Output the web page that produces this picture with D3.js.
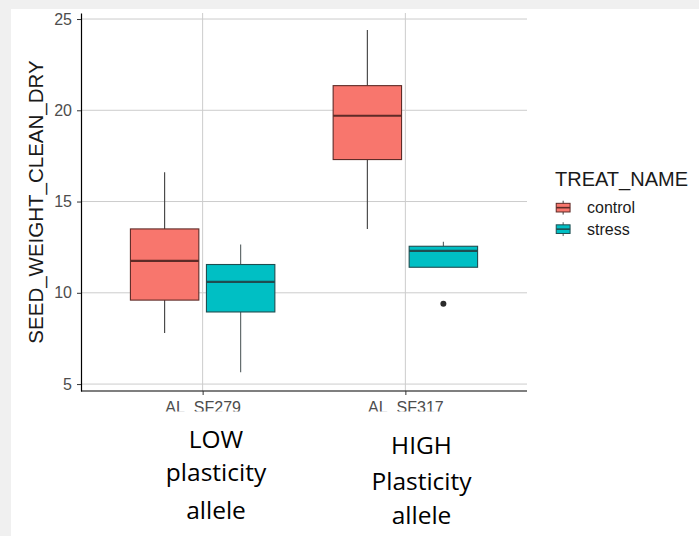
<!DOCTYPE html>
<html>
<head>
<meta charset="utf-8">
<script src="https://cdn.jsdelivr.net/npm/d3@7"></script>
<style>
  html, body { margin: 0; padding: 0; background: #f0f0f0; }
  svg { display: block; }
</style>
</head>
<body>
<svg id="chart" width="699" height="536"></svg>
<script>
// Seed weight by allele and treatment (box-plot summaries)
const alleles = ["AL_SF279", "AL_SF317"];
const treatments = ["control", "stress"];
const treatColors = ["#F8766D", "#00BFC4"];
const treatStrokes = ["#5e2b27", "#1f4d50"];
const whiskerColors = ["#3d3d3d", "#555f60"];

// [lower whisker, Q1, median, Q3, upper whisker] per allele
const controlStats = [
  [7.8, 9.6, 11.75, 13.5, 16.6],
  [13.5, 17.3, 19.7, 21.35, 24.4]
];
const stressStats = [
  [5.65, 8.95, 10.6, 11.55, 12.65],
  [11.4, 11.4, 12.3, 12.55, 12.8]
];
const outliers = [
  { allele: "AL_SF317", treat: "stress", value: 9.4 }
];
const yTicks = [5, 10, 15, 20, 25];
const groupNotes = [
  ["LOW", "plasticity", "allele"],
  ["HIGH", "Plasticity", "allele"]
];

const svg = d3.select("#chart");
const W = 699, H = 536;

// page background and white slide area
svg.append("rect").attr("width", W).attr("height", H).attr("fill", "#f0f0f0");
svg.append("rect").attr("x", 11).attr("y", 9).attr("width", W - 11).attr("height", H - 9).attr("fill", "#ffffff");

const panel = { left: 81, right: 527, top: 13, bottom: 391 };

const x = d3.scalePoint().domain(alleles).range([panel.left, panel.right]).padding(0.6);
const step = x.step();
const dodge = d3.scaleBand().domain(treatments).range([-0.375 * step, 0.375 * step]);
const boxW = dodge.bandwidth() * 0.9;

const y = d3.scaleLinear().domain([4.62, 25.33]).range([panel.bottom, panel.top]);

// grid
const grid = svg.append("g").attr("stroke", "#cccccc").attr("stroke-width", 1);
grid.selectAll("line.h").data(yTicks).join("line")
  .attr("x1", panel.left).attr("x2", panel.right)
  .attr("y1", d => y(d)).attr("y2", d => y(d));
grid.selectAll("line.v").data(alleles).join("line")
  .attr("x1", d => x(d)).attr("x2", d => x(d))
  .attr("y1", panel.top).attr("y2", panel.bottom);

// boxes
const series = [controlStats, stressStats];
const boxes = [];
treatments.forEach((t, ti) => {
  alleles.forEach((a, ai) => {
    boxes.push({ allele: a, treat: t, ti, s: series[ti][ai] });
  });
});

const bg = svg.append("g");
boxes.forEach(b => {
  const cx = x(b.allele) + dodge(b.treat) + dodge.bandwidth() / 2;
  const [lo, q1, med, q3, hi] = b.s;
  const g = bg.append("g");
  g.append("line").attr("x1", cx).attr("x2", cx).attr("y1", y(hi)).attr("y2", y(q3))
    .attr("stroke", whiskerColors[b.ti]).attr("stroke-width", 1.1);
  g.append("line").attr("x1", cx).attr("x2", cx).attr("y1", y(q1)).attr("y2", y(lo))
    .attr("stroke", whiskerColors[b.ti]).attr("stroke-width", 1.1);
  g.append("rect")
    .attr("x", cx - boxW / 2).attr("width", boxW)
    .attr("y", y(q3)).attr("height", y(q1) - y(q3))
    .attr("fill", treatColors[b.ti]).attr("stroke", treatStrokes[b.ti]).attr("stroke-width", 1.1);
  g.append("line").attr("x1", cx - boxW / 2).attr("x2", cx + boxW / 2)
    .attr("y1", y(med)).attr("y2", y(med))
    .attr("stroke", treatStrokes[b.ti]).attr("stroke-width", 2.2);
});

// outliers
svg.append("g").selectAll("circle").data(outliers).join("circle")
  .attr("cx", d => x(d.allele) + dodge(d.treat) + dodge.bandwidth() / 2)
  .attr("cy", d => y(d.value))
  .attr("r", 3)
  .attr("fill", "#2b2b2b");

// axes
const yAxis = svg.append("g")
  .attr("transform", `translate(${panel.left},0)`)
  .call(d3.axisLeft(y).tickValues(yTicks).tickSize(4).tickPadding(5).tickSizeOuter(0));
yAxis.select(".domain").attr("stroke", "#000").attr("stroke-width", 1.2);
yAxis.selectAll(".tick line").attr("stroke", "#333");
yAxis.selectAll(".tick text")
  .attr("font-family", "'Liberation Sans', Arial, sans-serif")
  .attr("font-size", 16).attr("fill", "#4d4d4d");

const xAxis = svg.append("g")
  .attr("transform", `translate(0,${panel.bottom})`)
  .call(d3.axisBottom(x).tickSize(4).tickPadding(7).tickSizeOuter(0));
xAxis.select(".domain").attr("stroke", "#000").attr("stroke-width", 1.2)
  .attr("d", `M${panel.left},0H${panel.right}`);
xAxis.selectAll(".tick line").attr("stroke", "#333");
xAxis.selectAll(".tick text")
  .attr("font-family", "'Liberation Sans', Arial, sans-serif")
  .attr("font-size", 16).attr("fill", "#4d4d4d");

// y title
svg.append("text")
  .attr("transform", `translate(43,${(panel.top + panel.bottom) / 2}) rotate(-90)`)
  .attr("text-anchor", "middle")
  .attr("font-family", "'Liberation Sans', Arial, sans-serif")
  .attr("font-size", 20.5).attr("fill", "#1a1a1a")
  .text("SEED_WEIGHT_CLEAN_DRY");

// legend
const leg = svg.append("g");
leg.append("text").attr("x", 555).attr("y", 186)
  .attr("font-family", "'Liberation Sans', Arial, sans-serif")
  .attr("font-size", 20).attr("fill", "#1a1a1a")
  .text("TREAT_NAME");
const keySize = 17.3;
treatments.forEach((t, i) => {
  const kx = 554.5, ky = 199 + i * 21.5;
  const cx = kx + keySize / 2;
  const k = leg.append("g");
  k.append("line").attr("x1", cx).attr("x2", cx).attr("y1", ky + keySize * 0.1).attr("y2", ky + keySize * 0.9)
    .attr("stroke", whiskerColors[i]).attr("stroke-width", 1);
  k.append("rect").attr("x", kx + keySize * 0.1).attr("width", keySize * 0.8)
    .attr("y", ky + keySize * 0.25).attr("height", keySize * 0.5)
    .attr("fill", treatColors[i]).attr("stroke", treatStrokes[i]).attr("stroke-width", 1);
  k.append("line").attr("x1", kx + keySize * 0.1).attr("x2", kx + keySize * 0.9)
    .attr("y1", ky + keySize / 2).attr("y2", ky + keySize / 2)
    .attr("stroke", treatStrokes[i]).attr("stroke-width", 1.6);
  leg.append("text").attr("x", 587).attr("y", ky + keySize / 2 + 5.5)
    .attr("font-family", "'Liberation Sans', Arial, sans-serif")
    .attr("font-size", 16).attr("fill", "#1a1a1a")
    .text(t);
});

// text box overlapping the lower part of the category labels
svg.append("rect").attr("x", 11).attr("y", 411.5).attr("width", W - 11).attr("height", H - 411.5).attr("fill", "#ffffff");

// allele notes under each category
const noteX = [216, 421.5];
const noteBase = [[448, 481, 519], [454, 490, 524]];
groupNotes.forEach((lines, gi) => {
  lines.forEach((ln, li) => {
    svg.append("text")
      .attr("x", noteX[gi]).attr("y", noteBase[gi][li])
      .attr("text-anchor", "middle")
      .attr("font-family", "'Open Sans', sans-serif")
      .attr("font-size", 24.5).attr("fill", "#000")
      .text(ln);
  });
});
</script>
</body>
</html>
